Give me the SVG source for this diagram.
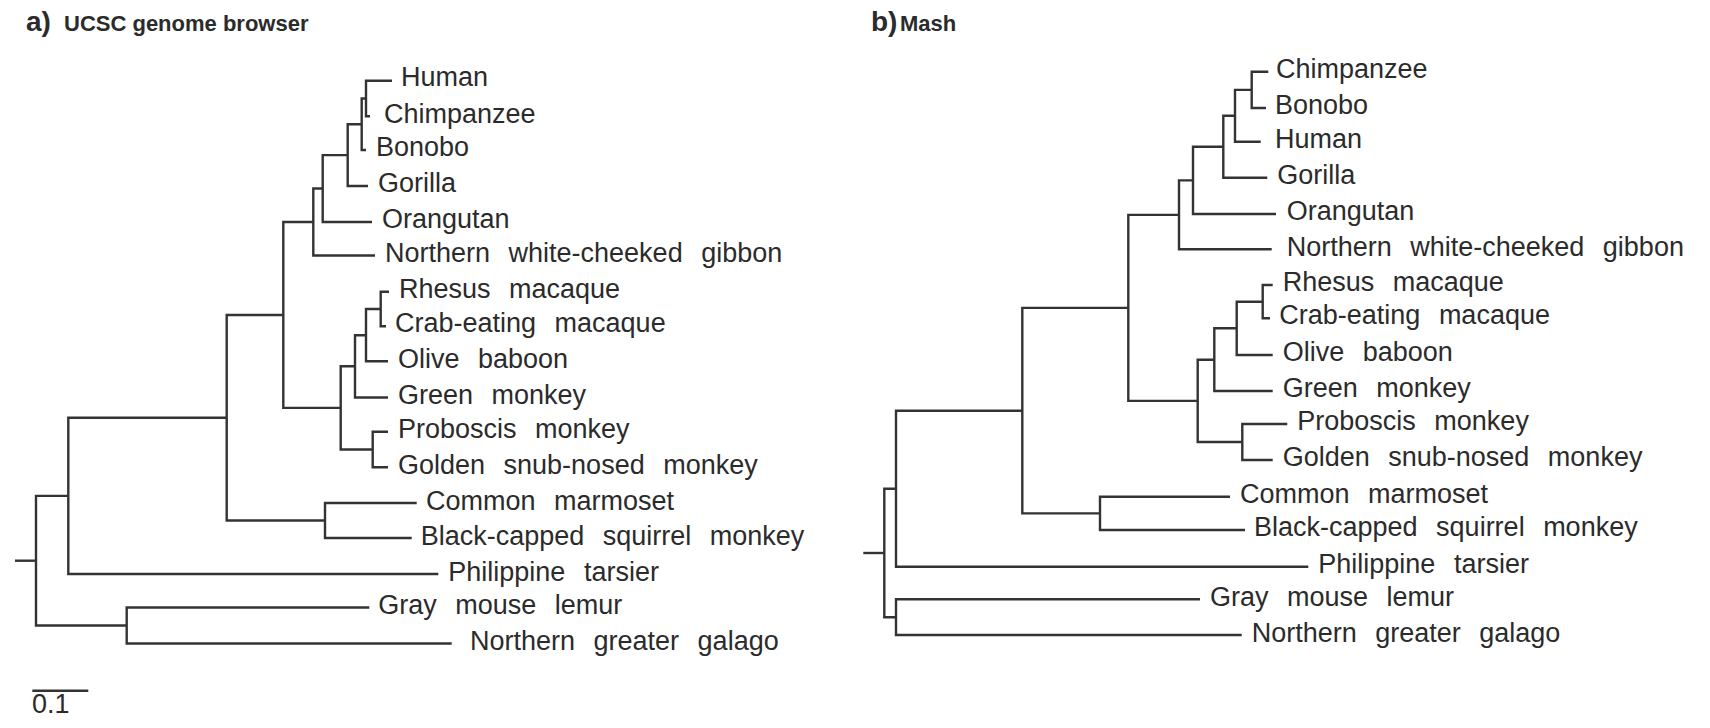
<svg xmlns="http://www.w3.org/2000/svg" width="1710" height="728" viewBox="0 0 1710 728">
<style>
.t{font-family:"Liberation Sans",Arial,sans-serif;font-size:27px;fill:#2b2b2b;word-spacing:11px}
.h{font-family:"Liberation Sans",Arial,sans-serif;font-weight:bold;fill:#2b2b2b}
.e{fill:none;stroke:#333;stroke-width:2.4;stroke-linejoin:miter;stroke-linecap:butt}
</style>
<rect width="1710" height="728" fill="#fff"/>
<g id="title-a"><text class="h" x="26" y="31" font-size="28">a)</text><text class="h" x="64" y="30.5" font-size="22">UCSC genome browser</text></g>
<g id="title-b"><text class="h" x="871" y="31" font-size="28">b)</text><text class="h" x="900" y="30.5" font-size="22">Mash</text></g>
<g id="connectors" class="e">
<!-- panel a -->
<path d="M392 80.7H366V116.3H370"/>
<path d="M366 98.5H361.7V150H366"/>
<path d="M361.7 124.2H347.7V186H368"/>
<path d="M347.7 155.1H322.7V222H372"/>
<path d="M322.7 188.5H313.3V255.5H375"/>
<path d="M389 291.7H380.7V326.3H386"/>
<path d="M380.7 309H366V361.3H388"/>
<path d="M366 335.2H355V397.5H388"/>
<path d="M388 431.8H372.7V467.3H388"/>
<path d="M355 366.3H340.7V449.5H372.7"/>
<path d="M313.3 222H283.3V407.9H340.7"/>
<path d="M416.7 503H325V538H411.7"/>
<path d="M283.3 315H226.7V520.5H325"/>
<path d="M226.7 417.7H68.3V574H438.3"/>
<path d="M369.3 607.5H126.7V643.5H451.7"/>
<path d="M68.3 495.9H36V625.5H126.7"/>
<path d="M15 560.7H36"/>
<path d="M32.3 690.7H88.3"/>
<!-- panel b -->
<path d="M1268.3 71.7H1251.7V108H1266"/>
<path d="M1251.7 89.9H1235V141.7H1260.7"/>
<path d="M1235 115.8H1223.3V177.7H1267.3"/>
<path d="M1223.3 146.7H1193V214H1276"/>
<path d="M1193 180.4H1179V249.3H1271.7"/>
<path d="M1272.7 285H1262.7V318.3H1270"/>
<path d="M1262.7 301.7H1236.7V355H1272.7"/>
<path d="M1236.7 328.3H1214.3V391H1272.7"/>
<path d="M1287.3 424H1242.3V460H1272.7"/>
<path d="M1214.3 359.7H1197.7V442H1242.3"/>
<path d="M1179 214.9H1128.3V400.9H1197.7"/>
<path d="M1230 496.7H1100V530H1245"/>
<path d="M1128.3 307.9H1022.3V513.4H1100"/>
<path d="M1022.3 410.7H896V566.7H1308.3"/>
<path d="M1200 599.3H896V635H1241.7"/>
<path d="M896 488.7H884.3V617.2H896"/>
<path d="M863.3 553H884.3"/>
</g>
<g id="scale"><text class="t" x="32" y="713" font-size="23">0.1</text></g>
<g id="a-human"><text class="t" x="401" y="86">Human</text></g>
<g id="a-chimpanzee"><text class="t" x="384" y="122.5">Chimpanzee</text></g>
<g id="a-bonobo"><text class="t" x="376" y="155.5">Bonobo</text></g>
<g id="a-gorilla"><text class="t" x="378" y="192">Gorilla</text></g>
<g id="a-orangutan"><text class="t" x="382" y="228">Orangutan</text></g>
<g id="a-gibbon"><text class="t" x="385" y="261.5">Northern white-cheeked gibbon</text></g>
<g id="a-rhesus"><text class="t" x="399" y="298">Rhesus macaque</text></g>
<g id="a-crab"><text class="t" x="395" y="332">Crab-eating macaque</text></g>
<g id="a-olive"><text class="t" x="398" y="367.5">Olive baboon</text></g>
<g id="a-green"><text class="t" x="398" y="404">Green monkey</text></g>
<g id="a-proboscis"><text class="t" x="398" y="437.5">Proboscis monkey</text></g>
<g id="a-golden"><text class="t" x="398" y="473.5">Golden snub-nosed monkey</text></g>
<g id="a-marmoset"><text class="t" x="426" y="509.5">Common marmoset</text></g>
<g id="a-squirrel"><text class="t" x="420.7" y="544.5">Black-capped squirrel monkey</text></g>
<g id="a-tarsier"><text class="t" x="448.3" y="580.5">Philippine tarsier</text></g>
<g id="a-lemur"><text class="t" x="378.3" y="614">Gray mouse lemur</text></g>
<g id="a-galago"><text class="t" x="470" y="650">Northern greater galago</text></g>
<g id="b-chimpanzee"><text class="t" x="1276" y="77.5">Chimpanzee</text></g>
<g id="b-bonobo"><text class="t" x="1275" y="114">Bonobo</text></g>
<g id="b-human"><text class="t" x="1275" y="147.5">Human</text></g>
<g id="b-gorilla"><text class="t" x="1277.3" y="184">Gorilla</text></g>
<g id="b-orangutan"><text class="t" x="1286.7" y="220">Orangutan</text></g>
<g id="b-gibbon"><text class="t" x="1286.7" y="255.5">Northern white-cheeked gibbon</text></g>
<g id="b-rhesus"><text class="t" x="1282.7" y="291">Rhesus macaque</text></g>
<g id="b-crab"><text class="t" x="1279.3" y="324">Crab-eating macaque</text></g>
<g id="b-olive"><text class="t" x="1282.7" y="361">Olive baboon</text></g>
<g id="b-green"><text class="t" x="1282.7" y="397">Green monkey</text></g>
<g id="b-proboscis"><text class="t" x="1297.3" y="430">Proboscis monkey</text></g>
<g id="b-golden"><text class="t" x="1282.7" y="465.5">Golden snub-nosed monkey</text></g>
<g id="b-marmoset"><text class="t" x="1240" y="502.5">Common marmoset</text></g>
<g id="b-squirrel"><text class="t" x="1254" y="536">Black-capped squirrel monkey</text></g>
<g id="b-tarsier"><text class="t" x="1318.3" y="572.5">Philippine tarsier</text></g>
<g id="b-lemur"><text class="t" x="1210" y="606">Gray mouse lemur</text></g>
<g id="b-galago"><text class="t" x="1251.7" y="641.5">Northern greater galago</text></g>
</svg>
